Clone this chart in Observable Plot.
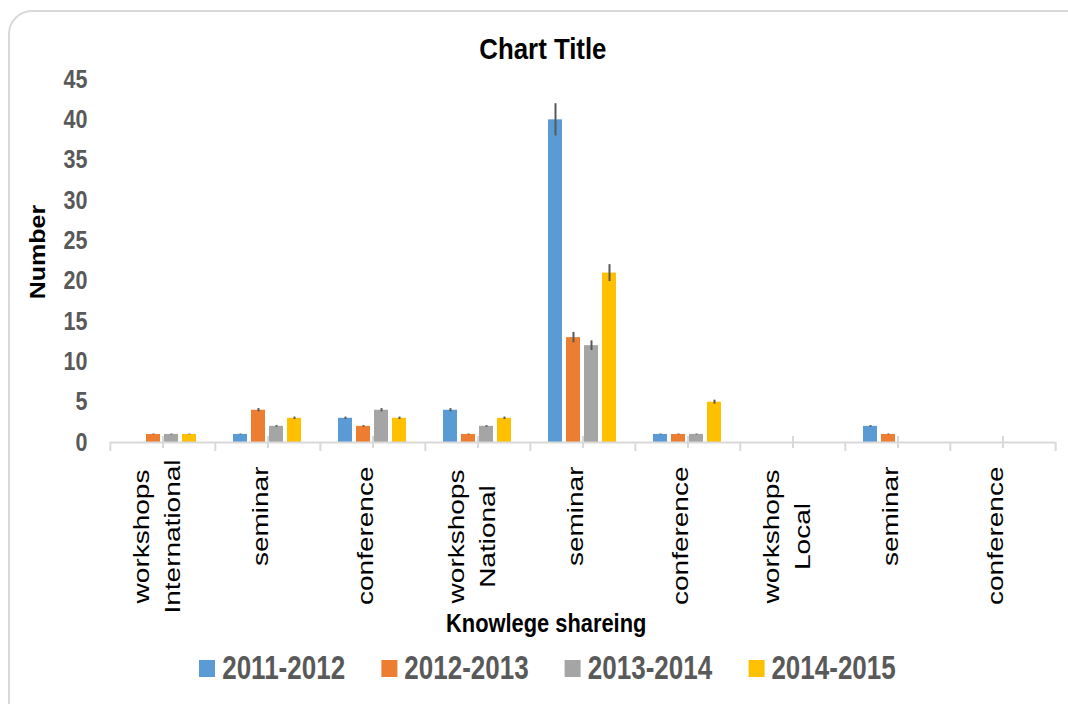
<!DOCTYPE html>
<html>
<head>
<meta charset="utf-8">
<script src="https://cdn.jsdelivr.net/npm/d3@7"></script>
<script src="https://cdn.jsdelivr.net/npm/@observablehq/plot@0.6"></script>
<style>
  body { margin: 0; background: #fff; }
  #wrap { position: relative; width: 1068px; height: 704px; overflow: hidden; font-family: "Liberation Sans", Arial, sans-serif; }
  #frame { position: absolute; left: 8px; top: 10px; width: 1100px; height: 760px; border: 2px solid #d9d9d9; border-radius: 24px; box-sizing: border-box; }
  #chart { position: absolute; left: 0; top: 0; }
  .bold { font-weight: bold; }
  #title { position: absolute; left: 0; width: 1086px; top: 34px; text-align: center; font-size: 30px; line-height: 30px; color: #000; }
  #title span, #xlabel span { display: inline-block; transform-origin: center; }
  #title span { transform: scaleX(0.86); }
  #xlabel { position: absolute; left: 0; width: 1092px; top: 610px; text-align: center; font-size: 26px; line-height: 26px; color: #000; }
  #xlabel span { transform: scaleX(0.84); }
  #ylabel { position: absolute; left: 38px; top: 252px; transform: translate(-50%, -50%) rotate(-90deg) scaleY(0.85); font-weight: bold; font-size: 25px; line-height: 25px; color: #000; white-space: nowrap; }
  #legend { position: absolute; left: 199px; top: 652px; display: flex; gap: 45px; align-items: center; transform: scaleX(0.8); transform-origin: 0 0; white-space: nowrap; }
  .item { display: flex; align-items: center; gap: 9px; font-size: 32.5px; line-height: 32.5px; color: #595959; font-weight: bold; }
  .sw { width: 20px; height: 17px; display: inline-block; }
</style>
</head>
<body>
<div id="wrap">
  <div id="frame"></div>
  <div id="chart"></div>
  <div id="title" class="bold"><span>Chart Title</span></div>
  <div id="ylabel">Number</div>
  <div id="xlabel" class="bold"><span>Knowlege shareing</span></div>
  <div id="legend"></div>
</div>
<script>
// ---- data ----
const regions = ["International", "National", "Local"];
const activities = ["workshops", "seminar", "conference"];
const seriesNames = ["2011-2012", "2012-2013", "2013-2014", "2014-2015"];
const seriesColors = ["#5B9BD5", "#ED7D31", "#A5A5A5", "#FFC000"];
const values2011 = [0, 1, 3, 4, 40, 1, 0, 2, 0];
const values2012 = [1, 4, 2, 1, 13, 1, 0, 1, 0];
const values2013 = [1, 2, 4, 2, 12, 1, 0, 0, 0];
const values2014 = [1, 3, 3, 3, 21, 5, 0, 0, 0];
const yTicks = [0, 5, 10, 15, 20, 25, 30, 35, 40, 45];
const errorPercent = 5; // Excel percentage error bars

// ---- derived tables ----
const groups = regions.flatMap(r => activities.map(a => ({key: r + " " + a, region: r, activity: a, first: a === activities[0]})));
const seriesValues = [values2011, values2012, values2013, values2014];
const rows = seriesValues.flatMap((vals, s) => vals.map((v, i) => ({
  key: groups[i].key, series: seriesNames[s], value: v,
  lo: v * (1 - errorPercent / 100), hi: v * (1 + errorPercent / 100)
})));

const W = 1068, H = 704, mL = 108, mR = 12, mT = 79, mB = 262;
const facetW = (W - mL - mR) / groups.length;
const axisGray = "#d9d9d9";
const labelFont = {fontFamily: "Liberation Sans, Arial, sans-serif", fontSize: 28, fontWeight: "normal", fill: "#000"};

const chart = Plot.plot({
  width: W, height: H,
  marginLeft: mL, marginRight: mR, marginTop: mT, marginBottom: mB,
  style: {background: "transparent", color: "#595959", fontFamily: "'Liberation Sans', Arial, sans-serif", fontSize: "25px", fontWeight: "bold"},
  fx: {domain: groups.map(d => d.key), padding: 0, axis: null, label: null},
  x: {domain: seriesNames, paddingInner: 0.22, paddingOuter: 0.9, axis: null},
  y: {domain: [0, 45], ticks: yTicks, tickSize: 0, tickPadding: 23, label: null},
  color: {domain: seriesNames, range: seriesColors},
  marks: [
    Plot.barY(rows, {fx: "key", x: "series", y: "value", fill: "series"}),
    Plot.ruleX(rows.filter(d => d.value > 0), {fx: "key", x: "series", y1: "lo", y2: "hi", stroke: "#595959", strokeWidth: 2}),
    Plot.ruleY([0], {stroke: axisGray, strokeWidth: 2}),
    // tick marks at category centers and boundaries
    Plot.ruleX(groups, {fx: "key", x: null, y1: 0, y2: 0, insetTop: -6, insetBottom: -6, stroke: axisGray, strokeWidth: 2}),
    Plot.ruleX(groups, {fx: "key", x: null, y1: 0, y2: 0, insetBottom: -9, dx: -facetW / 2, stroke: axisGray, strokeWidth: 2}),
    Plot.ruleX(groups.slice(-1), {fx: "key", x: null, y1: 0, y2: 0, insetBottom: -9, dx: facetW / 2, stroke: axisGray, strokeWidth: 2}),
    // category labels
    Plot.text(groups.filter(d => !d.first), {fx: "key", text: "activity", frameAnchor: "bottom", rotate: -90, textAnchor: "end", dy: 24, ...labelFont}),
    Plot.text(groups.filter(d => d.first), {fx: "key", text: "activity", frameAnchor: "bottom", rotate: -90, textAnchor: "middle", dx: -14, dy: 94, ...labelFont}),
    Plot.text(groups.filter(d => d.first), {fx: "key", text: "region", frameAnchor: "bottom", rotate: -90, textAnchor: "middle", dx: 17, dy: 94, ...labelFont})
  ]
});
// condense the y tick labels horizontally, keeping their right edge in place
d3.select(chart).selectAll('[aria-label^="y-axis"] text').each(function () {
  const t = d3.select(this);
  const x = +(t.attr("x") || 0);
  const tr = t.attr("transform") || "";
  t.attr("transform", `${tr} translate(${x},0) scale(0.86,1) translate(${-x},0)`);
});
// thin the rotated category labels horizontally (as in the reference image)
d3.select(chart).selectAll('g[aria-label="text"] text').each(function () {
  const t = d3.select(this);
  const tr = t.attr("transform") || "";
  t.attr("transform", tr.replace("rotate(", "scale(0.82,1) rotate("));
});
document.getElementById("chart").appendChild(chart);

// legend
const legend = document.getElementById("legend");
seriesNames.forEach((name, i) => {
  const item = document.createElement("div");
  item.className = "item";
  const sw = document.createElement("span");
  sw.className = "sw";
  sw.style.background = seriesColors[i];
  const t = document.createElement("span");
  t.textContent = name;
  item.appendChild(sw); item.appendChild(t);
  legend.appendChild(item);
});
</script>
</body>
</html>
